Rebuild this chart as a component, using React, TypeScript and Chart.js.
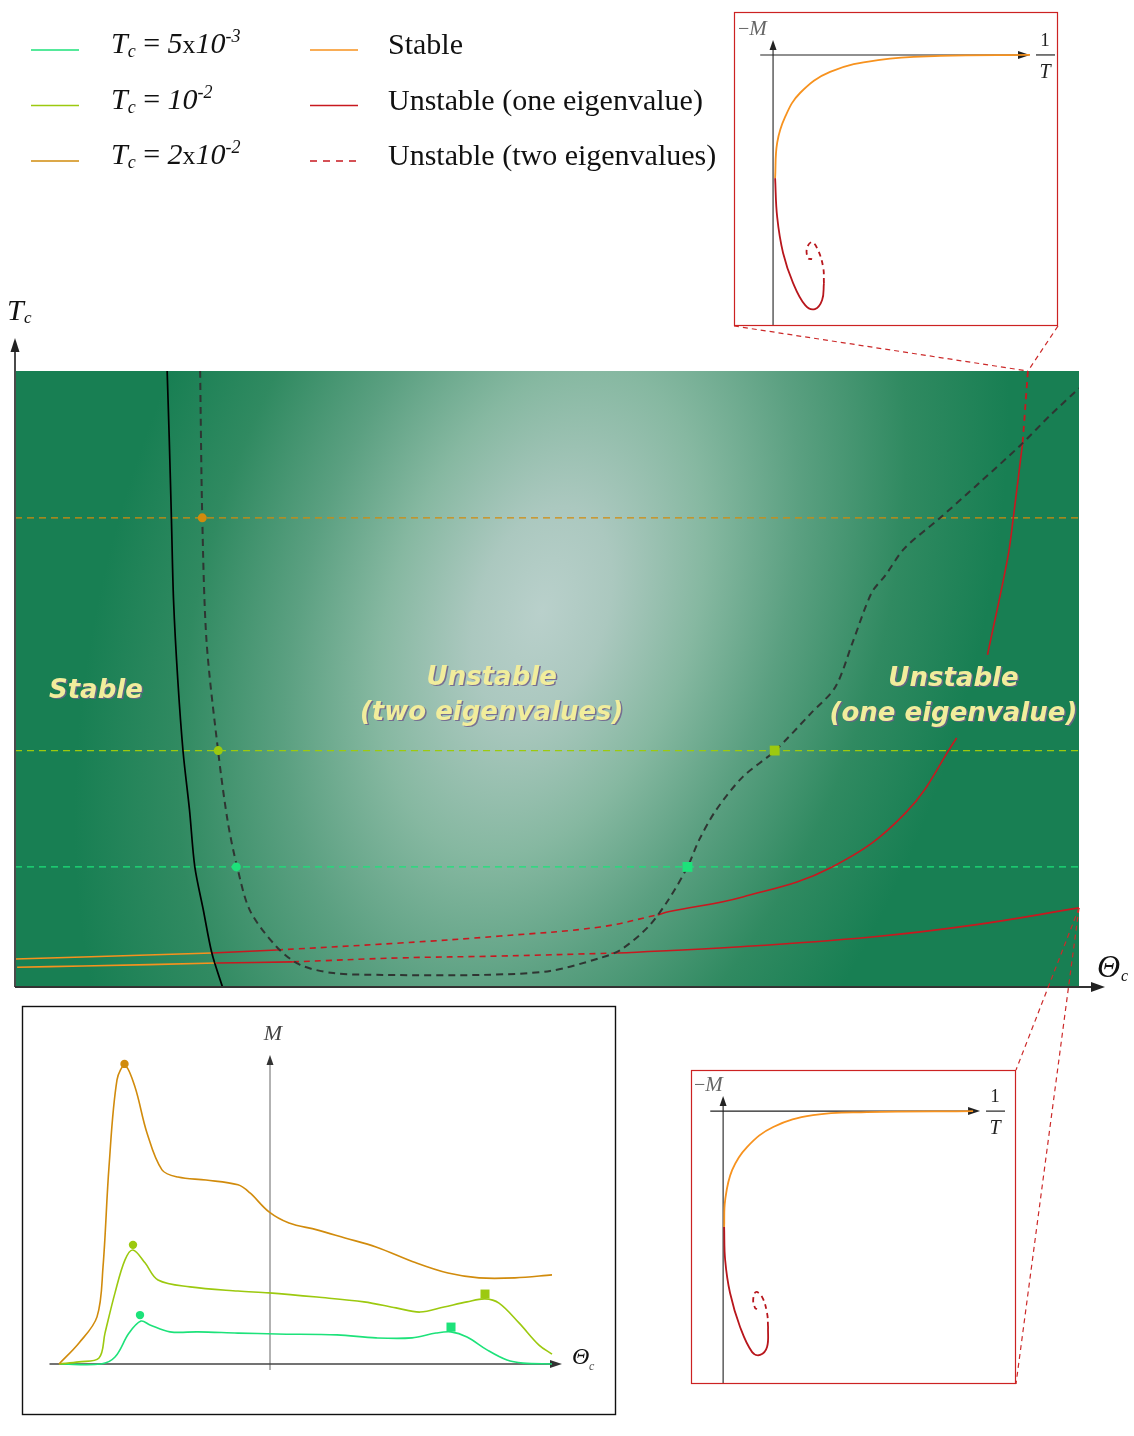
import React, { useEffect, useRef } from "react";
import { Chart, registerables } from "chart.js";
Chart.register(...registerables);

type P = [number, number | null];

// ================= DATA =================
// Main phase diagram: Θc in arbitrary units (0–100), Tc in units of 1e-3
const thetaRange = [0, 100];
const tcRange = [-0.16, 26.31];
const tcLevels = [5, 10, 20];
const tcLevelColors = ["#1de27a", "#9cc90f", "#d18b0c"];
const entryMarkerTheta = [20.8, 19.1, 17.6]; // circles on the two-eigenvalue boundary
const exitMarkerTheta = [63.2, 71.4]; // squares (Tc = 5e-3, 1e-2)

const stabilityBoundary: P[] = [
  [14.3, 26.31], [14.5, 23.35], [14.7, 20.0], [14.9, 16.47], [15.3, 13.03], [15.8, 9.94],
  [16.4, 7.45], [16.9, 5.0], [17.7, 3.15], [18.5, 1.3], [19.5, -0.16],
];
const twoEigenBoundary: P[] = [
  [17.4, 26.31], [17.6, 20.0], [18.0, 14.71], [19.1, 9.94], [20.0, 6.93], [20.9, 4.96],
  [22.1, 3.11], [24.6, 1.56], [26.8, 0.79], [29.9, 0.44], [34.6, 0.36], [44.0, 0.36],
  [50.3, 0.53], [55.0, 1.09], [56.9, 1.43], [59.5, 2.42], [61.4, 3.58], [63.2, 5.0],
  [64.3, 6.16], [65.9, 7.45], [68.4, 8.87], [71.4, 9.98], [74.8, 11.6], [77.1, 12.73],
  [78.7, 14.62], [80.5, 16.77], [81.8, 17.53], [83.6, 18.69], [86.9, 19.98], [90.7, 21.53],
  [94.5, 23.12], [97.3, 24.41], [100, 25.57],
];
const stableBranchUpper: P[] = [[0, 1.04], [6.4, 1.13], [18.5, 1.3]];
const stableBranchLower: P[] = [[0.2, 0.69], [6.4, 0.74], [18.9, 0.87]];
const upperUnstableSolidA: P[] = [[18.5, 1.3], [24.6, 1.43]];
const upperUnstableDashedB: P[] = [[24.6, 1.43], [36.2, 1.73], [45.6, 2.03], [55.0, 2.42], [60.4, 2.94]];
const upperUnstableSolidC: P[] = [
  [60.4, 2.94], [61.4, 3.07], [68.4, 3.71], [76.8, 5.0], [83.7, 7.32], [88.5, 10.54],
  [90.0, null], [91.4, 14.11], [93.3, 18.28], [93.8, 19.91], [94.7, 23.22],
];
const upperUnstableDashedD: P[] = [[94.7, 23.22], [95.2, 26.31]];
const lowerUnstableSolidE: P[] = [[18.9, 0.87], [26.1, 0.92]];
const lowerUnstableDashedF: P[] = [[26.1, 0.92], [36.2, 1.09], [45.6, 1.17], [56.6, 1.3]];
const lowerUnstableSolidG: P[] = [[56.6, 1.3], [67.8, 1.56], [80.5, 1.99], [90.2, 2.51], [100, 3.24]];

// Legend
const legendTcMantissa = ["5", "", "2"];
const legendTcExponent = ["-3", "-2", "-2"];
const legendStabilityLabels = ["Stable", "Unstable (one eigenvalue)", "Unstable (two eigenvalues)"];

// Region labels (Θc centre, Tc baseline of first line)
const regionLabels = [
  { lines: ["Stable"], theta: 7.6, tc: 12.26 },
  { lines: ["Unstable", "(two eigenvalues)"], theta: 44.8, tc: 12.82 },
  { lines: ["Unstable", "(one eigenvalue)"], theta: 88.2, tc: 12.78 },
];

// Bottom-left: M versus Θc
const mRangeX = [-4.96, 6.92];
const mRangeY = [-1.7, 11.93];
const mCurveT20: P[] = [
  [-4.22, 0], [-3.82, 0.7], [-3.46, 1.57], [-3.34, 3.23], [-3.22, 6.57], [-3.06, 9.47],
  [-2.9, 9.95], [-2.7, 9.23], [-2.46, 7.7], [-2.16, 6.47], [-1.84, 6.23], [-1.28, 6.13],
  [-0.64, 5.97], [-0.4, 5.7], [-0.02, 5.07], [0.38, 4.7], [0.94, 4.47], [1.5, 4.2],
  [2.12, 3.9], [2.92, 3.37], [3.56, 3.03], [4.18, 2.87], [4.9, 2.87], [5.64, 2.97],
];
const mCurveT10: P[] = [
  [-4.22, 0], [-3.82, 0.07], [-3.42, 0.2], [-3.3, 1.03], [-3.1, 2.37], [-2.9, 3.47],
  [-2.74, 3.8], [-2.5, 3.37], [-2.24, 2.8], [-1.6, 2.57], [-0.64, 2.43], [-0.02, 2.37],
  [0.94, 2.23], [1.88, 2.07], [2.52, 1.87], [3.0, 1.73], [3.48, 1.9], [3.94, 2.07],
  [4.3, 2.17], [4.58, 2.03], [4.98, 1.37], [5.38, 0.63], [5.64, 0.33],
];
const mCurveT5: P[] = [
  [-4.22, 0], [-3.38, 0], [-3.1, 0.23], [-2.82, 1.03], [-2.58, 1.43], [-2.4, 1.3],
  [-2.0, 1.07], [-1.44, 1.07], [-0.64, 1.03], [0.14, 1.0], [1.34, 0.97], [2.12, 0.87],
  [2.84, 0.87], [3.32, 1.03], [3.62, 1.07], [3.94, 0.9], [4.34, 0.47], [4.74, 0.13],
  [5.06, 0.03], [5.64, 0],
];
const mPeakCircles: P[] = [[-2.6, 1.63], [-2.74, 3.97], [-2.91, 10.0]]; // Tc = 5e-3, 1e-2, 2e-2
const mPeakSquares: P[] = [[3.62, 1.23], [4.3, 2.33]]; // Tc = 5e-3, 1e-2

// Inset A (top): −M versus 1/T
const insetARange = { x: [-1.52, 11.09], y: [-10.54, 1.67] };
const insetAStable: P[] = [
  [10, 0], [6.5, -0.04], [4.16, -0.19], [2.22, -0.66], [1.05, -1.48], [0.47, -2.41], [0.16, -3.42], [0.08, -4.79],
];
const insetAUnstableOne: P[] = [
  [0.08, -4.79], [0.16, -6.3], [0.39, -7.7], [0.78, -8.87], [1.25, -9.73], [1.63, -9.88], [1.91, -9.53], [1.98, -8.87],
];
const insetAUnstableTwo: P[] = [
  [1.98, -8.87], [1.95, -8.25], [1.75, -7.59], [1.52, -7.28], [1.32, -7.51], [1.36, -7.9], [1.52, -7.94],
];
// Inset B (bottom)
const insetBRange = { x: [-1.25, 11.4], y: [-10.62, 1.6] };
const insetBStable: P[] = [
  [9.73, 0], [5.6, -0.04], [3.5, -0.16], [1.95, -0.62], [0.93, -1.4], [0.35, -2.3], [0.08, -3.46], [0.04, -4.51],
];
const insetBUnstableOne: P[] = [
  [0.04, -4.51], [0.08, -5.8], [0.27, -7.08], [0.66, -8.4], [1.13, -9.38], [1.44, -9.49], [1.71, -9.18], [1.75, -8.4],
];
const insetBUnstableTwo: P[] = [
  [1.75, -8.4], [1.71, -7.86], [1.52, -7.24], [1.28, -7.04], [1.17, -7.35], [1.25, -7.67], [1.32, -7.7],
];
// Where the insets attach on the main diagram (Θc, Tc)
const insetAAnchor = [95.2, 26.31];
const insetBAnchor = [100, 3.24];

// ================= STYLE / LAYOUT =================
const STABLE_ORANGE = "#f7921e";
const UNSTABLE_RED = "#c8181f";
const SERIF = "'Liberation Serif', 'Times New Roman', serif";
const SANS = "'DejaVu Sans', sans-serif";
const INSET_A_BOX = { left: 734, top: 12, width: 324, height: 314 };
const INSET_B_BOX = { left: 691, top: 1070, width: 325, height: 314 };
const M_BOX = { left: 22, top: 1006, width: 594, height: 409 };
const LEGEND_ROW_Y = [50, 105.5, 161];

function line(data: P[], color: string, width: number, dash: number[] = [], order = 3, tension = 0.4) {
  return {
    type: "line" as const,
    data: data.map(([x, y]) => ({ x, y })),
    borderColor: color,
    borderWidth: width,
    borderDash: dash,
    borderCapStyle: "butt" as const,
    pointRadius: 0,
    pointHoverRadius: 0,
    fill: false,
    tension,
    spanGaps: false,
    order,
  };
}
function markers(data: P[], colors: string[], style: string, radius: number) {
  return {
    type: "line" as const,
    data: data.map(([x, y]) => ({ x, y })),
    showLine: false,
    pointStyle: style,
    pointRadius: radius,
    pointHoverRadius: radius,
    pointBackgroundColor: colors,
    pointBorderColor: colors,
    pointBorderWidth: 0,
    order: 0,
  };
}

function arrowUp(ctx: CanvasRenderingContext2D, x: number, tipY: number, len: number, half: number) {
  ctx.beginPath();
  ctx.moveTo(x, tipY);
  ctx.lineTo(x - half, tipY + len);
  ctx.lineTo(x + half, tipY + len);
  ctx.closePath();
  ctx.fill();
}
function arrowRight(ctx: CanvasRenderingContext2D, tipX: number, y: number, len: number, half: number) {
  ctx.beginPath();
  ctx.moveTo(tipX, y);
  ctx.lineTo(tipX - len, y - half);
  ctx.lineTo(tipX - len, y + half);
  ctx.closePath();
  ctx.fill();
}
type Run = { t: string; f: string; dy?: number };
function runs(ctx: CanvasRenderingContext2D, list: Run[], x: number, y: number) {
  let cx = x;
  for (const r of list) {
    ctx.font = r.f;
    ctx.fillText(r.t, cx, y + (r.dy || 0));
    cx += ctx.measureText(r.t).width;
  }
  return cx;
}

const mainDecor = {
  id: "mainDecor",
  beforeDatasetsDraw(chart: any) {
    const { ctx, chartArea: a } = chart;
    const w = a.right - a.left, h = a.bottom - a.top;
    ctx.save();
    ctx.beginPath();
    ctx.rect(a.left, a.top, w, h);
    ctx.clip();
    ctx.fillStyle = "#187f53";
    ctx.fillRect(a.left, a.top, w, h);
    ctx.translate(a.left + w * 0.495, a.top + h * 0.39);
    ctx.rotate((-72 * Math.PI) / 180);
    ctx.scale(1, 0.6);
    const g = ctx.createRadialGradient(0, 0, 0, 0, 0, 720);
    g.addColorStop(0, "#b9d0cb");
    g.addColorStop(0.15, "#abc8bf");
    g.addColorStop(0.35, "#86b8a1");
    g.addColorStop(0.55, "#5ba081");
    g.addColorStop(0.78, "#308a61");
    g.addColorStop(1, "#187f53");
    ctx.fillStyle = g;
    ctx.fillRect(-3000, -3000, 6000, 6000);
    ctx.restore();
  },
  afterDraw(chart: any) {
    const { ctx, chartArea: a, scales } = chart;
    const sx = scales.x, sy = scales.y;
    ctx.save();
    // region labels
    ctx.textAlign = "center";
    ctx.textBaseline = "alphabetic";
    ctx.font = `italic bold 26px ${SANS}`;
    for (const r of regionLabels) {
      const cx = sx.getPixelForValue(r.theta);
      const by = sy.getPixelForValue(r.tc);
      r.lines.forEach((t, i) => {
        ctx.fillStyle = "rgba(112,96,140,0.85)";
        ctx.fillText(t, cx + 1.5, by + i * 35 + 1.5);
        ctx.fillStyle = "#f1ed9c";
        ctx.fillText(t, cx, by + i * 35);
      });
    }
    // axes
    ctx.strokeStyle = "#4a4a4a";
    ctx.fillStyle = "#222";
    ctx.lineWidth = 2;
    ctx.beginPath();
    ctx.moveTo(a.left, a.bottom);
    ctx.lineTo(a.left, 352);
    ctx.stroke();
    arrowUp(ctx, a.left, 338, 14, 4.5);
    ctx.strokeStyle = "#333";
    ctx.beginPath();
    ctx.moveTo(a.left, a.bottom);
    ctx.lineTo(1092, a.bottom);
    ctx.stroke();
    arrowRight(ctx, 1105, a.bottom, 14, 5);
    // axis titles
    ctx.textAlign = "left";
    ctx.fillStyle = "#111";
    runs(ctx, [{ t: "T", f: `italic 30px ${SERIF}` }], 7, 320);
    runs(ctx, [{ t: "c", f: `italic 17px ${SERIF}` }], 24, 323);
    runs(ctx, [{ t: "Θ", f: `italic 32px ${SERIF}` }], 1097, 977);
    runs(ctx, [{ t: "c", f: `italic 16px ${SERIF}` }], 1121, 981);

    // legend
    ctx.lineWidth = 1.6;
    LEGEND_ROW_Y.forEach((ly, i) => {
      ctx.setLineDash([]);
      ctx.strokeStyle = tcLevelColors[i];
      ctx.beginPath();
      ctx.moveTo(31, ly);
      ctx.lineTo(79, ly);
      ctx.stroke();
      ctx.strokeStyle = i === 0 ? STABLE_ORANGE : UNSTABLE_RED;
      ctx.setLineDash(i === 2 ? [7, 6] : []);
      ctx.beginPath();
      ctx.moveTo(310, ly);
      ctx.lineTo(358, ly);
      ctx.stroke();
      ctx.setLineDash([]);
      ctx.fillStyle = "#111";
      const it30 = `italic 30px ${SERIF}`;
      const up30 = `30px ${SERIF}`;
      const list: Run[] = [
        { t: "T", f: it30 },
        { t: "c", f: `italic 18px ${SERIF}`, dy: 4 },
        { t: " = ", f: up30 },
      ];
      if (legendTcMantissa[i]) {
        list.push({ t: legendTcMantissa[i], f: it30 });
        list.push({ t: "x", f: `26px ${SERIF}` });
      }
      list.push({ t: "10", f: it30 });
      list.push({ t: legendTcExponent[i], f: `italic 18px ${SERIF}`, dy: -11 });
      runs(ctx, list, 111, ly + 3);
      runs(ctx, [{ t: legendStabilityLabels[i], f: up30 }], 388, ly + 4);
    });

    // connectors to insets
    ctx.strokeStyle = "#cc2a2a";
    ctx.lineWidth = 1.2;
    ctx.setLineDash([5, 4]);
    const ax = sx.getPixelForValue(insetAAnchor[0]), ay = sy.getPixelForValue(insetAAnchor[1]);
    const bx = sx.getPixelForValue(insetBAnchor[0]), by = sy.getPixelForValue(insetBAnchor[1]);
    const segs = [
      [INSET_A_BOX.left, INSET_A_BOX.top + INSET_A_BOX.height, ax, ay],
      [INSET_A_BOX.left + INSET_A_BOX.width, INSET_A_BOX.top + INSET_A_BOX.height, ax, ay],
      [bx, by, INSET_B_BOX.left + INSET_B_BOX.width, INSET_B_BOX.top],
      [bx, by, INSET_B_BOX.left + INSET_B_BOX.width, INSET_B_BOX.top + INSET_B_BOX.height],
    ];
    for (const [x1, y1, x2, y2] of segs) {
      ctx.beginPath();
      ctx.moveTo(x1, y1);
      ctx.lineTo(x2, y2);
      ctx.stroke();
    }
    ctx.restore();
  },
};

function baseOptions(pad: any, xr: number[], yr: number[]) {
  return {
    responsive: false,
    maintainAspectRatio: false,
    animation: false as const,
    events: [] as any[],
    layout: { padding: pad, autoPadding: false },
    scales: {
      x: { type: "linear" as const, min: xr[0], max: xr[1], display: false },
      y: { type: "linear" as const, min: yr[0], max: yr[1], display: false },
    },
    plugins: { legend: { display: false }, tooltip: { enabled: false } },
  };
}

function MainDiagram() {
  const ref = useRef<HTMLCanvasElement>(null);
  useEffect(() => {
    const datasets: any[] = [
      ...tcLevels.map((lv, i) => line([[thetaRange[0], lv], [thetaRange[1], lv]], tcLevelColors[i], 1.3, [7, 5], 9, 0)),
      line(stableBranchUpper, STABLE_ORANGE, 1.6, [], 4),
      line(stableBranchLower, STABLE_ORANGE, 1.6, [], 4),
      line(upperUnstableSolidA, UNSTABLE_RED, 1.6, [], 4),
      line(upperUnstableDashedB, UNSTABLE_RED, 1.6, [6, 5], 4),
      line(upperUnstableSolidC, UNSTABLE_RED, 1.6, [], 4),
      line(upperUnstableDashedD, UNSTABLE_RED, 1.8, [6, 5], 4),
      line(lowerUnstableSolidE, UNSTABLE_RED, 1.6, [], 4),
      line(lowerUnstableDashedF, UNSTABLE_RED, 1.6, [6, 5], 4),
      line(lowerUnstableSolidG, UNSTABLE_RED, 1.6, [], 4),
      line(stabilityBoundary, "#000000", 1.7, [], 2, 0.3),
      line(twoEigenBoundary, "#2f3532", 2, [7, 5], 2, 0.3),
      markers(entryMarkerTheta.map((t, i) => [t, tcLevels[i]] as P), tcLevelColors, "circle", 4.5),
      markers(exitMarkerTheta.map((t, i) => [t, tcLevels[i]] as P), tcLevelColors.slice(0, 2), "rect", 7),
    ];
    const chart = new Chart(ref.current!, {
      type: "line",
      data: { datasets },
      options: baseOptions({ left: 15, top: 371, right: 55, bottom: 449 }, thetaRange, tcRange) as any,
      plugins: [mainDecor],
    } as any);
    return () => chart.destroy();
  }, []);
  return (
    <canvas ref={ref} width={1134} height={1436}
      style={{ position: "absolute", left: 0, top: 0, width: 1134, height: 1436 }} />
  );
}

function MChart() {
  const ref = useRef<HTMLCanvasElement>(null);
  useEffect(() => {
    const decor = {
      id: "mDecor",
      beforeDatasetsDraw(chart: any) {
        const { ctx, scales } = chart;
        const ox = scales.x.getPixelForValue(0), oy = scales.y.getPixelForValue(0);
        ctx.save();
        ctx.strokeStyle = "#666";
        ctx.lineWidth = 1;
        ctx.beginPath();
        ctx.moveTo(ox, scales.y.getPixelForValue(-0.2));
        ctx.lineTo(ox, scales.y.getPixelForValue(10.3) + 10);
        ctx.stroke();
        ctx.fillStyle = "#333";
        arrowUp(ctx, ox, scales.y.getPixelForValue(10.3), 10, 3.5);
        ctx.strokeStyle = "#444";
        ctx.lineWidth = 1.3;
        const tip = scales.x.getPixelForValue(5.84);
        ctx.beginPath();
        ctx.moveTo(scales.x.getPixelForValue(-4.41), oy);
        ctx.lineTo(tip - 10, oy);
        ctx.stroke();
        arrowRight(ctx, tip, oy, 12, 4);
        ctx.restore();
      },
      afterDraw(chart: any) {
        const { ctx, chartArea: a, scales } = chart;
        const ox = scales.x.getPixelForValue(0), oy = scales.y.getPixelForValue(0);
        ctx.save();
        ctx.strokeStyle = "#111";
        ctx.lineWidth = 1.4;
        ctx.strokeRect(a.left + 0.5, a.top + 0.5, a.right - a.left - 1, a.bottom - a.top - 1);
        ctx.fillStyle = "#444";
        ctx.textAlign = "center";
        ctx.font = `italic 22px ${SERIF}`;
        ctx.fillText("M", ox + 3, scales.y.getPixelForValue(10.3) - 15);
        ctx.textAlign = "left";
        ctx.fillStyle = "#111";
        runs(ctx, [{ t: "Θ", f: `italic 24px ${SERIF}` }], a.left + 550, oy);
        ctx.fillStyle = "#555";
        runs(ctx, [{ t: "c", f: `italic 12px ${SERIF}` }], a.left + 567, oy + 6);
        ctx.restore();
      },
    };
    const datasets: any[] = [
      line(mCurveT20, tcLevelColors[2], 1.6, [], 3, 0.35),
      line(mCurveT10, tcLevelColors[1], 1.6, [], 3, 0.35),
      line(mCurveT5, tcLevelColors[0], 1.6, [], 3, 0.35),
      markers(mPeakCircles, tcLevelColors, "circle", 4.2),
      markers(mPeakSquares, tcLevelColors.slice(0, 2), "rect", 6.4),
    ];
    const chart = new Chart(ref.current!, {
      type: "line",
      data: { datasets },
      options: baseOptions({ left: 1, top: 1, right: 1, bottom: 1 }, mRangeX, mRangeY) as any,
      plugins: [decor],
    } as any);
    return () => chart.destroy();
  }, []);
  return (
    <canvas ref={ref} width={M_BOX.width + 2} height={M_BOX.height + 2}
      style={{ position: "absolute", left: M_BOX.left - 1, top: M_BOX.top - 1, width: M_BOX.width + 2, height: M_BOX.height + 2 }} />
  );
}

function InsetChart(props: {
  box: { left: number; top: number; width: number; height: number };
  range: { x: number[]; y: number[] };
  stable: P[]; one: P[]; two: P[];
}) {
  const ref = useRef<HTMLCanvasElement>(null);
  const { box, range, stable, one, two } = props;
  useEffect(() => {
    const decor = {
      id: "insetDecor",
      beforeDatasetsDraw(chart: any) {
        const { ctx, chartArea: a, scales } = chart;
        const ox = scales.x.getPixelForValue(0), oy = scales.y.getPixelForValue(0);
        const tipX = scales.x.getPixelForValue(10);
        const tipY = oy - 15;
        ctx.save();
        ctx.fillStyle = "#fff";
        ctx.fillRect(a.left, a.top, a.right - a.left, a.bottom - a.top);
        ctx.strokeStyle = "#222";
        ctx.fillStyle = "#222";
        ctx.lineWidth = 1.1;
        ctx.beginPath();
        ctx.moveTo(ox, a.bottom);
        ctx.lineTo(ox, tipY + 8);
        ctx.moveTo(scales.x.getPixelForValue(-0.5), oy);
        ctx.lineTo(tipX - 8, oy);
        ctx.stroke();
        arrowUp(ctx, ox, tipY, 10, 3.5);
        arrowRight(ctx, tipX, oy, 12, 4);
        ctx.restore();
      },
      afterDraw(chart: any) {
        const { ctx, chartArea: a, scales } = chart;
        const ox = scales.x.getPixelForValue(0), oy = scales.y.getPixelForValue(0);
        const tipX = scales.x.getPixelForValue(10);
        ctx.save();
        ctx.strokeStyle = "#cc2222";
        ctx.lineWidth = 1.2;
        ctx.strokeRect(a.left + 0.5, a.top + 0.5, a.right - a.left - 1, a.bottom - a.top - 1);
        ctx.fillStyle = "#666";
        ctx.textAlign = "left";
        runs(ctx, [{ t: "−", f: `20px ${SERIF}` }, { t: "M", f: `italic 21px ${SERIF}` }], Math.max(a.left + 3, ox - 35), oy - 20);
        ctx.fillStyle = "#222";
        ctx.textAlign = "center";
        ctx.font = `19px ${SERIF}`;
        ctx.fillText("1", tipX + 15, oy - 9);
        ctx.font = `italic 20px ${SERIF}`;
        ctx.fillText("T", tipX + 15, oy + 23);
        ctx.strokeStyle = "#222";
        ctx.lineWidth = 1.2;
        ctx.beginPath();
        ctx.moveTo(tipX + 6, oy);
        ctx.lineTo(tipX + 25, oy);
        ctx.stroke();
        ctx.restore();
      },
    };
    const datasets: any[] = [
      line(stable, STABLE_ORANGE, 1.8, [], 3, 0.4),
      line(one, "#b8161c", 1.8, [], 3, 0.4),
      line(two, "#b8161c", 1.8, [5, 4], 3, 0.4),
    ];
    const chart = new Chart(ref.current!, {
      type: "line",
      data: { datasets },
      options: baseOptions({ left: 1, top: 1, right: 1, bottom: 1 }, range.x, range.y) as any,
      plugins: [decor],
    } as any);
    return () => chart.destroy();
  }, []);
  return (
    <canvas ref={ref} width={box.width + 2} height={box.height + 2}
      style={{ position: "absolute", left: box.left - 1, top: box.top - 1, width: box.width + 2, height: box.height + 2 }} />
  );
}

export default function App() {
  return (
    <div style={{ position: "absolute", left: 0, top: 0, width: 1134, height: 1436, background: "#ffffff", overflow: "hidden" }}>
      <MainDiagram />
      <MChart />
      <InsetChart box={INSET_A_BOX} range={insetARange} stable={insetAStable} one={insetAUnstableOne} two={insetAUnstableTwo} />
      <InsetChart box={INSET_B_BOX} range={insetBRange} stable={insetBStable} one={insetBUnstableOne} two={insetBUnstableTwo} />
    </div>
  );
}
